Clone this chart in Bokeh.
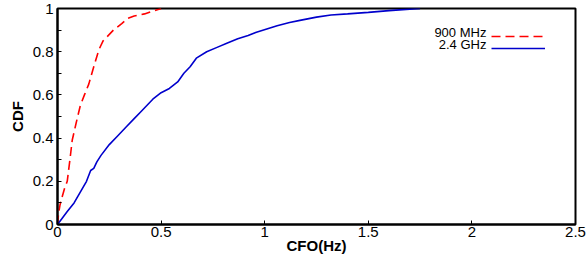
from bokeh.plotting import figure
from bokeh.models import FixedTicker, Legend, LegendItem, Label, Range1d
from bokeh.embed import file_html
from bokeh.resources import INLINE

# ---- data ----
cfo_900 = [0, 0.005, 0.012, 0.023, 0.035, 0.047, 0.06, 0.071, 0.09, 0.11, 0.13,
           0.151, 0.175, 0.2, 0.22, 0.24, 0.27, 0.31, 0.34, 0.37, 0.42, 0.45, 0.47, 0.5]
cdf_900 = [0, 0.05, 0.09, 0.13, 0.17, 0.2, 0.3, 0.39, 0.47, 0.55, 0.6,
           0.65, 0.73, 0.81, 0.85, 0.87, 0.9, 0.93, 0.955, 0.965, 0.975, 0.985, 0.99, 1.0]

cfo_24 = [0, 0.02, 0.047, 0.08, 0.11, 0.14, 0.16, 0.175, 0.19, 0.21, 0.25, 0.29, 0.33, 0.37,
          0.4, 0.43, 0.46, 0.5, 0.54, 0.58, 0.61, 0.64, 0.67, 0.72, 0.77, 0.82, 0.87,
          0.92, 0.96, 1.01, 1.06, 1.12, 1.17, 1.25, 1.32, 1.4, 1.5, 1.6, 1.7, 1.75]
cdf_24 = [0, 0.025, 0.06, 0.1, 0.15, 0.2, 0.25, 0.26, 0.29, 0.32, 0.37, 0.41, 0.45, 0.49,
          0.52, 0.55, 0.58, 0.61, 0.63, 0.66, 0.7, 0.73, 0.77, 0.8, 0.82, 0.84, 0.86,
          0.875, 0.89, 0.905, 0.92, 0.935, 0.945, 0.96, 0.97, 0.975, 0.982, 0.99, 0.997, 1.0]

series_labels = ["900 MHz", "2.4 GHz"]
x_ticks = [0, 0.5, 1, 1.5, 2, 2.5]
x_tick_labels = ["0", "0.5", "1", "1.5", "2", "2.5"]
y_ticks = [0, 0.2, 0.4, 0.6, 0.8, 1]
y_tick_labels = ["0", "0.2", "0.4", "0.6", "0.8", "1"]
y_minor = [0.1, 0.3, 0.5, 0.7, 0.9]

FONT = "Liberation Sans"

p = figure(width=587, height=256, output_backend="svg", toolbar_location=None,
           x_range=Range1d(0, 2.5), y_range=Range1d(0, 1),
           min_border_left=57, min_border_right=12, min_border_top=8, min_border_bottom=30)
p.background_fill_color = "white"
p.border_fill_color = "white"
p.xgrid.visible = False
p.ygrid.visible = False
p.outline_line_color = "black"
p.outline_line_width = 2

r900 = p.line(cfo_900, cdf_900, line_color="#ff0000", line_width=1.6, line_dash="9 5")
r24 = p.line(cfo_24, cdf_24, line_color="#0000cc", line_width=1.6)

for ax in (p.xaxis[0], p.yaxis[0]):
    ax.axis_line_width = 2
    ax.axis_line_color = "black"
    ax.major_tick_in = 4
    ax.major_tick_out = 0
    ax.minor_tick_in = 4
    ax.minor_tick_out = 0
    ax.major_tick_line_width = 1
    ax.major_label_text_font = FONT
    ax.major_label_text_font_size = "15px"
    ax.major_label_text_color = "black"
    ax.axis_label_text_font = FONT
    ax.axis_label_text_font_size = "15px"
    ax.axis_label_text_font_style = "bold"
    ax.axis_label_text_color = "black"

p.xaxis.ticker = FixedTicker(ticks=x_ticks)
p.xaxis.major_label_overrides = dict(zip(x_ticks, x_tick_labels))
p.xaxis.major_label_standoff = 2
p.xaxis.axis_label = "CFO(Hz)"
p.xaxis.axis_label_standoff = -3

p.yaxis.ticker = FixedTicker(ticks=y_ticks, minor_ticks=y_minor)
p.yaxis.major_label_overrides = dict(zip(y_ticks, y_tick_labels))
p.yaxis.major_label_standoff = 4
p.yaxis.axis_label = "CDF"
p.yaxis.axis_label_standoff = 4

# legend: sample lines via Legend (empty labels), texts to their left
legend = Legend(items=[LegendItem(label="", renderers=[r900]),
                       LegendItem(label="", renderers=[r24])],
                location=(434, 170), glyph_width=54, glyph_height=12,
                spacing=0, padding=0, margin=0, label_width=0, label_standoff=0,
                label_height=12, background_fill_alpha=0, border_line_alpha=0)
p.add_layout(legend, "center")

for lab, yv in zip(series_labels, [0.888, 0.832]):
    p.add_layout(Label(x=2.07, y=yv, text=lab, text_align="right", text_baseline="middle",
                       text_font=FONT, text_font_size="13px", text_color="black"))

open("out.html", "w").write(file_html(p, INLINE))
